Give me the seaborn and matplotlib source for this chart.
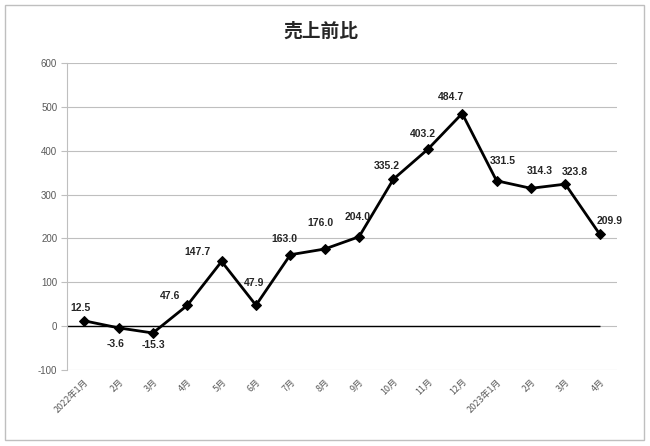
import matplotlib
matplotlib.use("Agg")
import matplotlib.pyplot as plt
import seaborn as sns
import pandas as pd
from matplotlib.patches import Rectangle

# ---- data ----
categories = ["2022年1月", "2月", "3月", "4月", "5月", "6月", "7月", "8月", "9月",
              "10月", "11月", "12月", "2023年1月", "2月", "3月", "4月"]
values = [12.5, -3.6, -15.3, 47.6, 147.7, 47.9, 163.0, 176.0, 204.0,
          335.2, 403.2, 484.7, 331.5, 314.3, 323.8, 209.9]
value_labels = ["12.5", "-3.6", "-15.3", "47.6", "147.7", "47.9", "163.0", "176.0", "204.0",
                "335.2", "403.2", "484.7", "331.5", "314.3", "323.8", "209.9"]
y_ticks = [-100, 0, 100, 200, 300, 400, 500, 600]
title = "売上前比"

# label offsets (pixels) relative to marker -- layout only
label_offsets = [(-4, 13), (-3, -16), (1, -12), (-17, 9), (-24, 9), (-2, 22), (-6, 16),
                 (-4, 26), (-1, 20), (-7, 13), (-5, 15), (-11, 17), (6, 20), (9, 17),
                 (10, 12), (10, 13)]

sns.set_theme(style="white")
plt.rcParams['font.family'] = ['Noto Sans CJK JP', 'DejaVu Sans']

fig = plt.figure(figsize=(6.5, 4.46), dpi=100)
ax = fig.add_axes([0.103, 0.170, 0.846, 0.689])

df = pd.DataFrame({"idx": range(len(categories)), "val": values})
sns.lineplot(data=df, x="idx", y="val", ax=ax, color="black", linewidth=2.0,
             marker="D", markersize=5, markeredgecolor="black", markerfacecolor="black")

ax.set_xlim(-0.5, len(categories) - 0.5)
ax.set_ylim(y_ticks[0], y_ticks[-1])
ax.set_yticks(y_ticks)
ax.set_yticklabels([str(t) for t in y_ticks], fontsize=7, color="#595959",
                   family=["Liberation Sans", "DejaVu Sans"])
ax.yaxis.grid(True, color="#bfbfbf", linewidth=0.8)
ax.xaxis.grid(False)
ax.set_axisbelow(True)

# zero axis line
ax.hlines(0, -0.5, len(categories) - 1, color="black", linewidth=1.0, zorder=1.5)

ax.set_xticks(range(len(categories)))
ax.set_xticklabels(categories, rotation=45, ha="right", rotation_mode="anchor",
                   fontsize=6.5, color="#595959")
ax.tick_params(axis="x", length=0, pad=5)
ax.tick_params(axis="y", length=4, width=0.8, color="#bfbfbf", pad=3, left=True)

for s in ["top", "right", "bottom"]:
    ax.spines[s].set_visible(False)
ax.spines["left"].set_color("#bfbfbf")
ax.spines["left"].set_linewidth(0.8)
ax.set_xlabel("")
ax.set_ylabel("")

for i, (v, lab) in enumerate(zip(values, value_labels)):
    dx, dy = label_offsets[i]
    ax.annotate(lab, (i, v), xytext=(dx, dy), textcoords="offset pixels",
                ha="center", va="center", fontsize=7.5, fontweight="bold",
                color="#262626", family=["Liberation Sans", "DejaVu Sans"])

fig.text(321 / 650, 1 - 31 / 446, title, ha="center", va="center",
         fontsize=13.5, fontweight="bold", color="#262626")

fig.add_artist(Rectangle((4.5 / 650, 1 - 440 / 446), 639 / 650, 435 / 446,
                         transform=fig.transFigure, fill=False,
                         edgecolor="#bfbfbf", linewidth=1.0))

fig.savefig("out.png", dpi=100)
